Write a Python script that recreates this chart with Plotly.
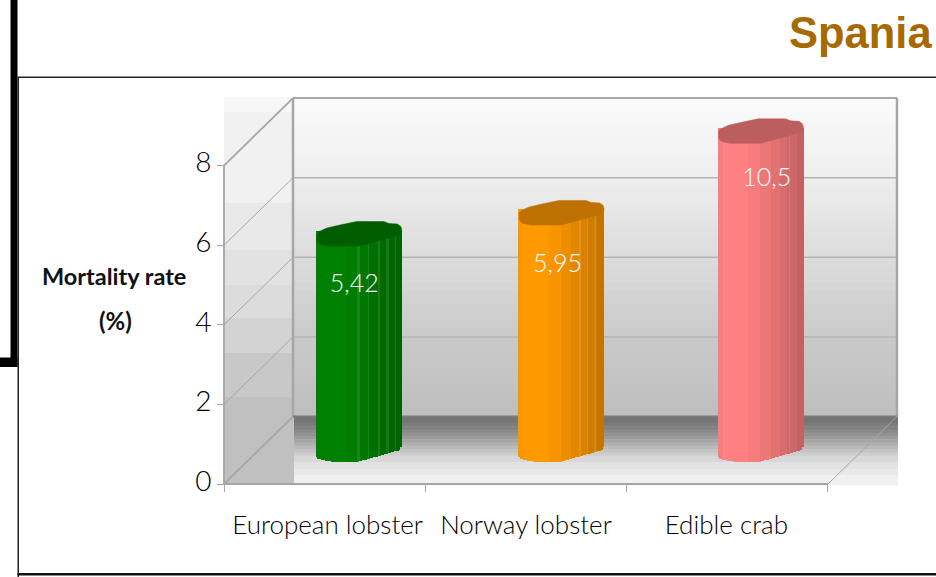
import plotly.graph_objects as go

# ---- data ----
categories = ["European lobster", "Norway lobster", "Edible crab"]
values = [5.42, 5.95, 10.5]
value_labels = ["5,42", "5,95", "10,5"]
y_ticks = [0, 2, 4, 6, 8]
axis_max = 8
title_text = "Spania"
y_title_lines = ["Mortality rate", "(%)"]

# ---- styling ----
base_colors = [(0, 128, 0), (255, 153, 0), (255, 128, 128)]
highlights = [[.50, .62, .74, .84, .94], [.72, .82, .90], [.08, .85]]
label_dpx = [(-5, 50), (-3, 51), (5, 46)]
xlabel_dpx = [3, 0, -1]
bar_dpx = [0, 1, -1]
W, H = 936, 577
X0, CAT_PX, Y0, UNIT = 224.0, 201.33, 484.0, 39.8
DX, DY = 69.0, 67.5
BAR_W = 85.0
FONT = "Lato"
GRID = "#a6a6a6"


def xd(px):
    return -0.5 + (px - X0) / CAT_PX


def yd(py):
    return (Y0 - py) / UNIT


def interp(pts, t):
    for (a, va), (b, vb) in zip(pts, pts[1:]):
        if a <= t <= b:
            return va + (vb - va) * (t - a) / (b - a if b > a else 1)
    return pts[-1][1]


bottom_curve = [(0, 6), (.03, 9), (.22, 12), (.47, 12), (.97, 0), (1, -5)]
cap_upper = [(0, 2), (.005, -1), (.03, -3), (.12, -6.5), (.30, -10), (.47, -13), (.79, -13), (.85, -11),
             (.95, -10.5), (.99, -8), (1, -5)]
cap_lower = [(1, -3), (.98, -.5), (.93, 1.5), (.5, 11.5), (.14, 11.5), (.05, 10), (.015, 8), (0, 5)]
band_edges = [0, .05, .35, .5, .62, .73, .83, .93, 1.01]
band_shades = [.985, 1.0, .97, .93, .89, .85, .81, .77]
CAP_SHADE = .74

shapes = []


def rect(x0, y0, x1, y1, color):
    shapes.append(dict(type="rect", xref="x", yref="y", x0=xd(x0), x1=xd(x1), y0=yd(y0), y1=yd(y1),
                       fillcolor=color, line=dict(width=0), layer="below"))


def line(x0, y0, x1, y1, color=GRID, width=1.0, layer="below"):
    shapes.append(dict(type="line", xref="x", yref="y", x0=xd(x0), x1=xd(x1), y0=yd(y0), y1=yd(y1),
                       line=dict(color=color, width=width), layer=layer))


def grey(v):
    v = int(round(v))
    return f"rgb({v},{v},{v})"


# back wall vertical gradient
back_top, back_bot = Y0 - UNIT * axis_max - DY, Y0 - DY
back_stops = [(0, 251), (.25, 238), (.5, 220), (.75, 202), (1, 190)]
n = 40
for i in range(n):
    t = i / n
    rect(X0 + DX, back_top + (back_bot - back_top) * t, X0 + DX + 3 * CAT_PX + 1,
         back_top + (back_bot - back_top) * (i + 1) / n + .5, grey(interp(back_stops, (i + .5) / n)))

# floor gradient
floor_cols = [116, 118, 124, 130, 138, 146, 156, 166, 176, 186, 196, 206, 216, 216, 226, 226, 232, 232, 240, 240, 240]
fn = len(floor_cols)
for i, c in enumerate(floor_cols):
    rect(X0 + DX + 1, back_bot + (Y0 + 1 - back_bot) * i / fn, X0 + DX + 3 * CAT_PX + 1,
         back_bot + (Y0 + 1 - back_bot) * (i + 1) / fn + .5, grey(c))

# left wall block of horizontal bands
wall_edges = [97, 112, 203, 250, 285, 318, 353, 397, 484]
wall_cols = [247, 241, 233, 226, 220, 211, 200, 192]
for a, b, c in zip(wall_edges, wall_edges[1:], wall_cols):
    rect(X0, a, X0 + DX + 1, b + .5, grey(c))

# grid and frame of the box
for v in y_ticks[1:-1]:
    py = Y0 - UNIT * v
    line(X0, py, X0 + DX, py - DY, GRID, 1)
    line(X0 + DX, py - DY, X0 + DX + 3 * CAT_PX, py - DY, "#b4b4b4", 1.5)
top_py = Y0 - UNIT * axis_max
line(X0, top_py, X0 + DX, back_top, GRID, 1.8)
line(X0, Y0, X0 + DX, back_bot, GRID, 1.8)
line(X0, top_py, X0, Y0, GRID, 1.8)
line(X0 + DX, back_top, X0 + DX, back_bot, GRID, 2.5)
line(X0 + DX, back_top, X0 + DX + 3 * CAT_PX, back_top, GRID, 2)
line(X0 + DX + 3 * CAT_PX, back_top, X0 + DX + 3 * CAT_PX, back_bot, GRID, 2.5)
line(X0 + DX, back_bot, X0 + DX + 3 * CAT_PX, back_bot, "#7a7a7a", 2)
line(X0, Y0, X0 + 3 * CAT_PX, Y0, GRID, 2)
line(X0 + 3 * CAT_PX, Y0, X0 + 3 * CAT_PX + DX, back_bot, GRID, 1)


def page_rect(x0, y0, x1, y1, color):
    shapes.append(dict(type="rect", xref="paper", yref="paper", x0=x0 / W, x1=x1 / W,
                       y0=1 - y0 / H, y1=1 - y1 / H, fillcolor=color, line=dict(width=0), layer="below"))


page_rect(10.5, 0, 17.5, 367, "#000000")
page_rect(0, 357.5, 17.5, 367, "#000000")
page_rect(17.5, 77, 19, 577, "#222222")
page_rect(17.5, 76.5, W, 78, "#222222")
page_rect(17.5, 573, W, 575.5, "#111111")

fig = go.Figure()

STRIP = 1.5
strips = int(BAR_W / STRIP)
for i, (val, rgb) in enumerate(zip(values, base_colors)):
    drawn = min(val, axis_max)
    cx = i + (DX / 2 + bar_dpx[i]) / CAT_PX
    mid_base = DY / 2
    xs, bases, hs, cols = [], [], [], []
    for s in range(strips):
        t = (s + .5) / strips
        shade = next(sh for a, b, sh in zip(band_edges, band_edges[1:], band_shades) if a <= t < b)
        c = [ch * shade for ch in rgb]
        if any(abs(t - h) < .01 for h in highlights[i]):
            c = [ch + (255 - ch) * .1 for ch in c]
        base = (mid_base - interp(bottom_curve, t)) / UNIT
        xs.append(cx + (t - .5) * BAR_W / CAT_PX)
        bases.append(base)
        hs.append(drawn + (mid_base + 4) / UNIT - base)
        cols.append("rgb(%d,%d,%d)" % tuple(c))
    fig.add_trace(go.Bar(x=xs, y=hs, base=bases, width=(STRIP + .4) / CAT_PX, marker=dict(color=cols, line=dict(width=0)),
                         hoverinfo="skip", showlegend=False))

for i, (val, rgb) in enumerate(zip(values, base_colors)):
    drawn = min(val, axis_max)
    cx = i + (DX / 2 + bar_dpx[i]) / CAT_PX
    mid = drawn + DY / 2 / UNIT
    outline = cap_upper + cap_lower
    cx_pts = [cx + (t - .5) * BAR_W / CAT_PX for t, _ in outline]
    cy_pts = [mid - o / UNIT for _, o in outline]
    col = "rgb(%d,%d,%d)" % tuple(int(ch * CAP_SHADE) for ch in rgb)
    fig.add_trace(go.Scatter(x=cx_pts, y=cy_pts, mode="lines", fill="toself", fillcolor=col,
                             line=dict(color=col, width=.5), hoverinfo="skip", showlegend=False))

fig.add_trace(go.Scatter(
    x=[i + (DX / 2 + label_dpx[i][0]) / CAT_PX for i in range(len(values))],
    y=[min(v, axis_max) + (DY / 2 - label_dpx[i][1] - 1.5) / UNIT for i, v in enumerate(values)],
    mode="text", text=value_labels, textposition="middle center",
    textfont=dict(family=FONT, size=25, color="white", weight=300), hoverinfo="skip", showlegend=False))

annotations = [
    dict(x=934 / W, y=1 - 33 / H, xref="paper", yref="paper", text=f"<b>{title_text}</b>", showarrow=False,
         xanchor="right", yanchor="middle", font=dict(family="Liberation Sans", size=43.5, color="#A66A00")),
    dict(x=113.5 / W, y=1 - 276 / H, xref="paper", yref="paper", text=f"<b>{y_title_lines[0]}</b>", showarrow=False,
         xanchor="center", yanchor="middle", font=dict(family=FONT, size=23.5, color="#111111")),
    dict(x=115 / W, y=1 - 320 / H, xref="paper", yref="paper", text=f"<b>{y_title_lines[1]}</b>", showarrow=False,
         xanchor="center", yanchor="middle", font=dict(family=FONT, size=24, color="#111111")),
]

fig.update_layout(
    width=W, height=H, margin=dict(l=0, r=0, t=0, b=0), paper_bgcolor="white", plot_bgcolor="rgba(0,0,0,0)",
    barmode="overlay", bargap=0, showlegend=False, shapes=shapes, annotations=annotations,
    xaxis=dict(range=[xd(0), xd(W)], domain=[0, 1], anchor="free", position=(H - Y0) / H, side="bottom",
               tickmode="array", tickvals=[i + xlabel_dpx[i] / CAT_PX for i in range(len(categories))],
               ticktext=categories,
               ticks="outside", ticklen=0, ticklabelstandoff=18,
               tickfont=dict(family=FONT, size=26, color="#000000", weight=300),
               showgrid=False, zeroline=False, showline=False, fixedrange=True,
               minor=dict(tickmode="array", tickvals=[-.5, .5, 1.5, 2.5], ticks="outside", ticklen=7,
                          tickcolor=GRID, tickwidth=1, showgrid=False)),
    yaxis=dict(range=[yd(H), yd(0)], domain=[0, 1], anchor="free", position=X0 / W, side="left",
               tickmode="array", tickvals=y_ticks, ticks="outside", ticklen=7, tickcolor=GRID, tickwidth=1,
               ticklabelshift=-3, ticklabelstandoff=0,
               tickfont=dict(family=FONT, size=28, color="#000000", weight=300),
               showgrid=False, zeroline=False, showline=False, fixedrange=True),
)

fig.write_html("out.html", config={"displayModeBar": False},
               post_script="document.body.style.margin='0';document.body.style.overflow='hidden';")
